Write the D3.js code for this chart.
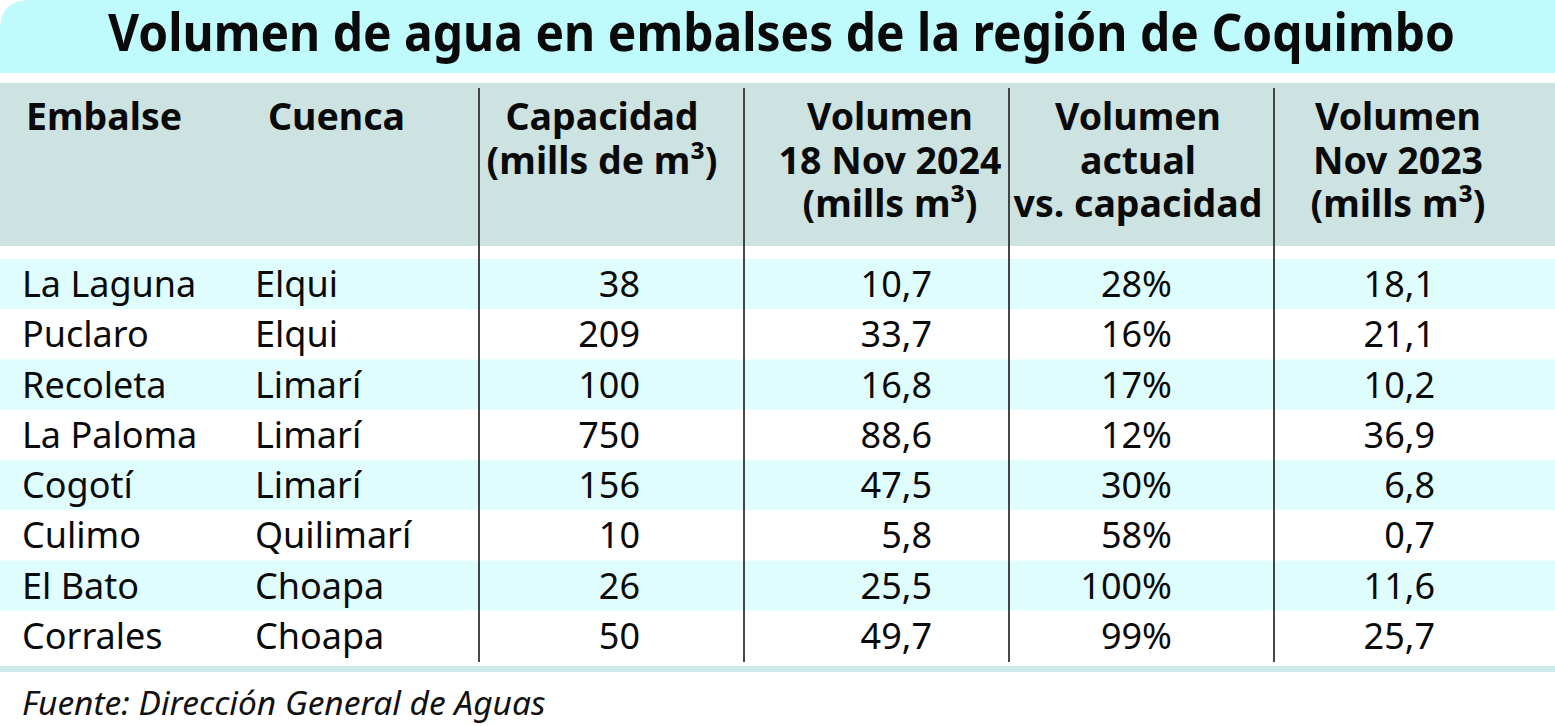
<!DOCTYPE html>
<html>
<head>
<meta charset="utf-8">
<script src="https://cdn.jsdelivr.net/npm/d3@7"></script>
<style>
  html, body { margin: 0; padding: 0; background: #fff; }
  svg { display: block; }
</style>
</head>
<body>
<svg id="chart" width="1555" height="726"></svg>
<script>
// table data
var embalses = ["La Laguna", "Puclaro", "Recoleta", "La Paloma", "Cogotí", "Culimo", "El Bato", "Corrales"];
var cuencas = ["Elqui", "Elqui", "Limarí", "Limarí", "Limarí", "Quilimarí", "Choapa", "Choapa"];
var capacidad = [38, 209, 100, 750, 156, 10, 26, 50];
var vol2024 = [10.7, 33.7, 16.8, 88.6, 47.5, 5.8, 25.5, 49.7];
var pctCapacidad = [28, 16, 17, 12, 30, 58, 100, 99];
var vol2023 = [18.1, 21.1, 10.2, 36.9, 6.8, 0.7, 11.6, 25.7];

var headers = [
  ["Embalse"],
  ["Cuenca"],
  ["Capacidad", "(mills de m³)"],
  ["Volumen", "18 Nov 2024", "(mills m³)"],
  ["Volumen", "actual", "vs. capacidad"],
  ["Volumen", "Nov 2023", "(mills m³)"]
];

var title = "Volumen de agua en embalses de la región de Coquimbo";
var source = "Fuente: Dirección General de Aguas";

var es = d3.formatLocale({decimal: ",", thousands: ".", grouping: [3], currency: ["$", ""]});
var fInt = es.format("d"), fDec = es.format(".1f");

var W = 1555;
var svg = d3.select("#chart");
var font = "'Noto Sans', 'Open Sans', sans-serif";

// column layout: header x/anchor, cell x/anchor
var cols = [
  {hx: 26, ha: "start", cx: 22, ca: "start", vals: embalses, fmt: String},
  {hx: 268, ha: "start", cx: 255, ca: "start", vals: cuencas, fmt: String},
  {hx: 602, ha: "middle", cx: 640, ca: "end", vals: capacidad, fmt: fInt},
  {hx: 890, ha: "middle", cx: 932, ca: "end", vals: vol2024, fmt: fDec},
  {hx: 1138, ha: "middle", cx: 1172, ca: "end", vals: pctCapacidad, fmt: function(d) { return fInt(d) + "%"; }},
  {hx: 1398, ha: "middle", cx: 1435, ca: "end", vals: vol2023, fmt: fDec}
];
var dividers = [479, 744, 1009, 1274];

var y = d3.scaleBand().domain(d3.range(embalses.length)).range([259, 661]).padding(0);

// title band with rounded top-left corner
var r = 30, th = 73;
svg.append("path")
  .attr("d", "M0," + r + " Q0,0 " + r + ",0 L" + W + ",0 L" + W + "," + th + " L0," + th + " Z")
  .attr("fill", "#bffafc");

svg.append("text")
  .attr("x", 108).attr("y", 51)
  .attr("font-family", font).attr("font-weight", 700).attr("font-size", 52)
  .attr("fill", "#0a0a0a")
  .attr("textLength", 1347).attr("lengthAdjust", "spacingAndGlyphs")
  .text(title);

// header band
svg.append("rect").attr("x", 0).attr("y", 83).attr("width", W).attr("height", 163).attr("fill", "#cde3e2");

// row stripes
svg.selectAll("rect.row").data(embalses).enter().append("rect")
  .attr("class", "row")
  .attr("x", 0).attr("width", W)
  .attr("y", function(d, i) { return y(i); })
  .attr("height", y.bandwidth())
  .attr("fill", function(d, i) { return i % 2 === 0 ? "#e0fdfe" : "#ffffff"; });

// bottom rule
svg.append("rect").attr("x", 0).attr("y", 666).attr("width", W).attr("height", 6).attr("fill", "#cfeaea");

// header text
cols.forEach(function(c, ci) {
  var t = svg.append("text")
    .attr("font-family", font).attr("font-weight", 700).attr("font-size", 37.5)
    .attr("fill", "#0a0a0a").attr("text-anchor", c.ha);
  headers[ci].forEach(function(line, li) {
    t.append("tspan").attr("x", c.hx).attr("y", 130 + li * 43.5).text(line);
  });
});

// cell text
cols.forEach(function(c) {
  svg.selectAll(null).data(c.vals).enter().append("text")
    .attr("x", c.cx)
    .attr("y", function(d, i) { return y(i) + y.bandwidth() / 2 + 13; })
    .attr("text-anchor", c.ca)
    .attr("font-family", font).attr("font-size", 36)
    .attr("fill", "#0a0a0a")
    .text(function(d) { return c.fmt(d); });
});

// column dividers
svg.selectAll("line.div").data(dividers).enter().append("line")
  .attr("class", "div")
  .attr("x1", function(d) { return d; }).attr("x2", function(d) { return d; })
  .attr("y1", 88).attr("y2", 662)
  .attr("stroke", "#333").attr("stroke-width", 1.8);

// source
svg.append("text")
  .attr("x", 22).attr("y", 715)
  .attr("font-family", font).attr("font-style", "italic").attr("font-size", 33.5)
  .attr("fill", "#111")
  .text(source);
</script>
</body>
</html>
